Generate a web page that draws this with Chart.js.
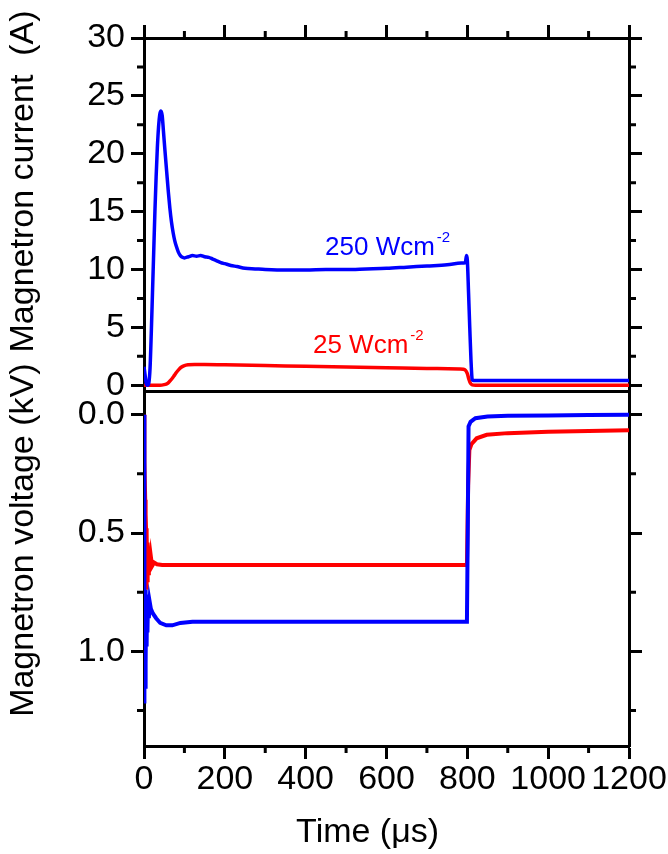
<!DOCTYPE html>
<html><head><meta charset="utf-8">
<script src="https://cdn.jsdelivr.net/npm/chart.js@4.4.1/dist/chart.umd.min.js"></script>
<style>
html,body{margin:0;padding:0;background:#fff;}
#wrap{position:relative;width:668px;height:854px;overflow:hidden;}
#c1{position:absolute;left:0;top:0;}
#c2{position:absolute;left:0;top:331px;}
</style></head><body>
<div id="wrap">
<canvas id="c1" width="668" height="400"></canvas>
<canvas id="c2" width="668" height="523"></canvas>
</div>
<script>
// ---------------- data ----------------
const seriesNames = ['250 Wcm', '25 Wcm'];
const seriesSup = '-2';
const seriesColors = ['#0000ff', '#ff0000'];

const timeTicks = [0, 200, 400, 600, 800, 1000, 1200];
const timeMinorTicks = [100, 300, 500, 700, 900, 1100];
const currentTicks = [0, 5, 10, 15, 20, 25, 30];
const currentMinorTicks = [2.5, 7.5, 12.5, 17.5, 22.5, 27.5];
const voltageTicks = [0, 0.5, 1.0];
const voltageMinorTicks = [0.25, 0.75, 1.25];

const currentTitle = 'Magnetron current  (A)';
const voltageTitle = 'Magnetron voltage (kV)';
const timeTitle = 'Time (\u03bcs)';

// Magnetron current, 250 Wcm-2
const cur250Time = [0, 3, 6, 9, 12, 15, 18, 21, 24, 27, 30, 33, 36, 39, 42, 45, 48, 52, 56, 60, 64, 68, 72, 76, 80, 85, 90, 95, 100, 110, 120, 130, 140, 150, 160, 170, 180, 190, 200, 215, 230, 250, 275, 300, 350, 400, 450, 500, 550, 600, 650, 700, 750, 785, 795, 798, 800, 803, 806, 809, 812, 815, 900, 1000, 1100, 1200];
const cur250 = [1.6, 0.8, 0.1, 0.0, 0.2, 1.5, 4.5, 8.0, 11.5, 15.0, 18.0, 20.5, 22.3, 23.4, 23.7, 23.3, 22.0, 20.2, 18.5, 16.8, 15.3, 14.1, 13.2, 12.5, 12.0, 11.5, 11.2, 11.05, 11.0, 11.1, 11.2, 11.15, 11.2, 11.1, 11.05, 10.9, 10.75, 10.6, 10.5, 10.35, 10.25, 10.1, 10.05, 10.0, 9.95, 9.95, 10.0, 10.0, 10.05, 10.1, 10.2, 10.3, 10.4, 10.55, 10.6, 11.2, 10.8, 8.0, 5.0, 2.2, 0.5, 0.4, 0.4, 0.4, 0.4, 0.4];

// Magnetron current, 25 Wcm-2
const cur25Time = [0, 20, 40, 50, 55, 60, 65, 70, 75, 80, 86, 92, 100, 110, 125, 150, 200, 300, 400, 500, 600, 700, 780, 790, 795, 800, 804, 808, 812, 820, 1000, 1200];
const cur25 = [0.0, 0.0, 0.0, 0.05, 0.1, 0.2, 0.4, 0.6, 0.85, 1.1, 1.35, 1.55, 1.7, 1.77, 1.8, 1.79, 1.76, 1.7, 1.63, 1.57, 1.51, 1.45, 1.4, 1.38, 1.3, 1.0, 0.5, 0.15, 0.03, 0.0, 0.0, 0.0];

// Magnetron voltage (kV), 250 Wcm-2
const volt250Time = [0, 0.5, 1.5, 2.5, 3.5, 4.5, 5.5, 6.5, 7.5, 8.5, 10, 12, 14, 17, 22, 30, 40, 55, 70, 90, 120, 200, 300, 400, 500, 600, 700, 799, 801, 803, 808, 820, 850, 900, 1000, 1100, 1200];
const volt250 = [0.0, 1.22, 0.72, 1.15, 0.74, 1.05, 0.76, 0.98, 0.77, 0.92, 0.78, 0.86, 0.79, 0.82, 0.84, 0.86, 0.88, 0.89, 0.89, 0.88, 0.875, 0.875, 0.875, 0.875, 0.875, 0.875, 0.875, 0.875, 0.5, 0.05, 0.03, 0.015, 0.008, 0.005, 0.003, 0.001, 0.0];

// Magnetron voltage (kV), 25 Wcm-2
const volt25Time = [0, 1, 3, 4, 5, 6, 7, 8, 9, 10, 12, 14, 17, 20, 25, 32, 45, 100, 300, 500, 700, 799, 802, 805, 810, 823, 848, 900, 1000, 1100, 1200];
const volt25 = [0.0, 0.2, 0.36, 0.42, 0.48, 0.74, 0.5, 0.7, 0.54, 0.67, 0.57, 0.66, 0.6, 0.64, 0.625, 0.632, 0.635, 0.635, 0.635, 0.635, 0.635, 0.635, 0.3, 0.15, 0.125, 0.1, 0.085, 0.078, 0.072, 0.069, 0.066];

// label anchor positions (data units)
const labelAnchorTime = [448, 418];
const labelAnchorCurrent = [11.25, 2.78];

// ---------------- helpers ----------------
const FONT = '"Liberation Sans", Arial, Helvetica, sans-serif';
Chart.defaults.font.family = FONT;
Chart.defaults.color = '#000';

const pts = (xs, ys) => xs.map((x, i) => ({x: x, y: ys[i]}));
const setTicks = arr => s => { s.ticks = arr.map(v => ({value: v})); };
const fixBox = (w, h) => s => {
  if (w !== null) s.width = w;
  if (h !== null) s.height = h;
  s.paddingLeft = 0; s.paddingRight = 0; s.paddingTop = 0; s.paddingBottom = 0;
};
// pad a title with spaces so that it sits where the reference has it
const padStart = (t, n) => ' '.repeat(n) + t;
const padEnd = (t, n) => t + ' '.repeat(n);

const BORDER = {display: true, color: '#000', width: 3};
const tickGrid = len => ({display: true, drawOnChartArea: false, drawTicks: true, tickLength: len, tickWidth: 3, tickColor: '#000', color: '#000'});
const noGrid = {display: false, drawTicks: false};
const TICK_FONT = {family: FONT, size: 34};
const TITLE_FONT = {family: FONT, size: 34};

const minorTickPlugin = {
  id: 'minorTicks',
  afterDraw(chart, args, opts) {
    const ctx = chart.ctx;
    ctx.save();
    ctx.strokeStyle = '#000';
    ctx.lineWidth = 3;
    ctx.beginPath();
    (opts.items || []).forEach(item => {
      const s = chart.scales[item.scale];
      item.values.forEach(v => {
        const p = s.getPixelForValue(v);
        if (s.isHorizontal()) {
          const y0 = item.side === 'top' ? s.bottom : s.top;
          const y1 = item.side === 'top' ? y0 - item.len : y0 + item.len;
          ctx.moveTo(p, y0); ctx.lineTo(p, y1);
        } else {
          const x0 = item.side === 'left' ? s.right : s.left;
          const x1 = item.side === 'left' ? x0 - item.len : x0 + item.len;
          ctx.moveTo(x0, p); ctx.lineTo(x1, p);
        }
      });
    });
    ctx.stroke();
    ctx.restore();
  }
};

const seriesLabelPlugin = {
  id: 'seriesLabels',
  afterDatasetsDraw(chart) {
    const ctx = chart.ctx;
    const xs = chart.scales.x, ys = chart.scales.y;
    ctx.save();
    ctx.textAlign = 'left';
    ctx.textBaseline = 'alphabetic';
    seriesNames.forEach((name, i) => {
      const px = xs.getPixelForValue(labelAnchorTime[i]);
      const py = ys.getPixelForValue(labelAnchorCurrent[i]);
      ctx.fillStyle = seriesColors[i];
      ctx.font = '26px ' + FONT;
      ctx.fillText(name, px, py);
      const w = ctx.measureText(name).width;
      ctx.font = '15px ' + FONT;
      ctx.fillText(seriesSup, px + w + 2, py - 13);
    });
    ctx.restore();
  }
};

// ---------------- top panel: current ----------------
new Chart(document.getElementById('c1'), {
  type: 'line',
  data: {
    datasets: [
      {label: seriesNames[0], data: pts(cur250Time, cur250), borderColor: seriesColors[0], borderWidth: 3.5, pointRadius: 0, cubicInterpolationMode: 'monotone', xAxisID: 'x', yAxisID: 'y'},
      {label: seriesNames[1], data: pts(cur25Time, cur25), borderColor: seriesColors[1], borderWidth: 3.5, pointRadius: 0, cubicInterpolationMode: 'monotone', xAxisID: 'x', yAxisID: 'y'}
    ]
  },
  options: {
    responsive: false, animation: false, devicePixelRatio: 1,
    layout: {padding: {top: 25, bottom: 9, left: 0, right: 26}},
    plugins: {
      legend: {display: false}, tooltip: {enabled: false},
      minorTicks: {items: [
        {scale: 'y', side: 'left', len: 7, values: currentMinorTicks},
        {scale: 'yRight', side: 'right', len: 7, values: currentMinorTicks},
        {scale: 'xTop', side: 'top', len: 7, values: timeMinorTicks}
      ]}
    },
    scales: {
      x: {type: 'linear', position: 'bottom', min: 0, max: 1200, display: true,
          ticks: {display: false}, grid: noGrid, border: BORDER, afterFit: fixBox(null, 0)},
      xTop: {type: 'linear', position: 'top', min: 0, max: 1200, display: true,
          afterBuildTicks: setTicks(timeTicks), ticks: {display: false},
          grid: tickGrid(13), border: BORDER, afterFit: fixBox(null, 13)},
      y: {type: 'linear', position: 'left', min: -0.5, max: 30, display: true,
          afterBuildTicks: setTicks(currentTicks),
          ticks: {font: TICK_FONT, color: '#000', padding: 6, callback: v => String(v)},
          grid: tickGrid(13), border: BORDER,
          title: {display: true, text: padStart(currentTitle, 7), font: TITLE_FONT, color: '#000', padding: {top: 3, bottom: 0}},
          afterFit: fixBox(144, null)},
      yRight: {type: 'linear', position: 'right', min: -0.5, max: 30, display: true,
          afterBuildTicks: setTicks(currentTicks), ticks: {display: false},
          grid: tickGrid(13), border: BORDER, afterFit: fixBox(13, null)}
    }
  },
  plugins: [minorTickPlugin, seriesLabelPlugin]
});

// ---------------- bottom panel: voltage ----------------
new Chart(document.getElementById('c2'), {
  type: 'line',
  data: {
    datasets: [
      {label: seriesNames[0], data: pts(volt250Time, volt250), borderColor: seriesColors[0], borderWidth: 4, pointRadius: 0, xAxisID: 'x', yAxisID: 'y'},
      {label: seriesNames[1], data: pts(volt25Time, volt25), borderColor: seriesColors[1], borderWidth: 4, pointRadius: 0, xAxisID: 'x', yAxisID: 'y'}
    ]
  },
  options: {
    responsive: false, animation: false, devicePixelRatio: 1,
    layout: {padding: {top: 60, bottom: 0, left: 0, right: 26}},
    plugins: {
      legend: {display: false}, tooltip: {enabled: false},
      minorTicks: {items: [
        {scale: 'y', side: 'left', len: 7, values: voltageMinorTicks},
        {scale: 'yRight', side: 'right', len: 7, values: voltageMinorTicks},
        {scale: 'x', side: 'bottom', len: 7, values: timeMinorTicks}
      ]}
    },
    scales: {
      x: {type: 'linear', position: 'bottom', min: 0, max: 1200, display: true,
          afterBuildTicks: setTicks(timeTicks),
          ticks: {font: TICK_FONT, color: '#000', padding: 0, autoSkip: false, maxRotation: 0, callback: v => String(v)},
          grid: tickGrid(13), border: BORDER,
          title: {display: true, text: padEnd(timeTitle, 4), font: TITLE_FONT, color: '#000', padding: {top: 0, bottom: 1}},
          afterFit: fixBox(null, 108)},
      xTop: {type: 'linear', position: 'top', min: 0, max: 1200, display: true,
          ticks: {display: false}, grid: noGrid, border: BORDER, afterFit: fixBox(null, 0)},
      y: {type: 'linear', position: 'left', reverse: true, min: -0.1, max: 1.4, display: true,
          afterBuildTicks: setTicks(voltageTicks),
          ticks: {font: TICK_FONT, color: '#000', padding: 6, callback: v => Number(v).toFixed(1)},
          grid: tickGrid(13), border: BORDER,
          title: {display: true, text: padStart(voltageTitle, 6), font: TITLE_FONT, color: '#000', padding: {top: 3, bottom: 0}},
          afterFit: fixBox(144, null)},
      yRight: {type: 'linear', position: 'right', reverse: true, min: -0.1, max: 1.4, display: true,
          afterBuildTicks: setTicks(voltageTicks), ticks: {display: false},
          grid: tickGrid(13), border: BORDER, afterFit: fixBox(13, null)}
    }
  },
  plugins: [minorTickPlugin]
});
</script>
</body></html>
